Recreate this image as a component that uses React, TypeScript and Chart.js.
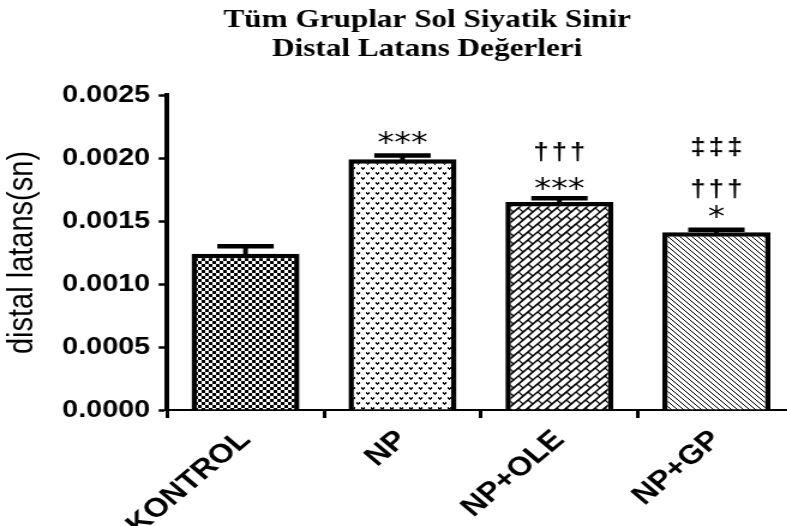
import React, { useEffect, useRef } from "react";
import { Chart, registerables } from "chart.js";

Chart.register(...registerables);

// Group data: mean distal latency (s) and SEM
const categories = ["KONTROL", "NP", "NP+OLE", "NP+GP"];
const meanLatency = [0.00124, 0.00199, 0.00165, 0.00141];
const semLatency = [0.00006, 0.00003, 0.00003, 0.00002];
const yTickValues = [0, 0.0005, 0.001, 0.0015, 0.002, 0.0025];
const titleLines = ["Tüm Gruplar Sol Siyatik Sinir", "Distal Latans Değerleri"];
const yAxisTitle = "distal latans(sn)";
// significance symbols per group, listed from the bar upwards
const significance = [[], ["***"], ["***", "†††"], ["*", "†††", "‡‡‡"]];

// The canvas is drawn narrow and widened with a CSS scaleX.
const STRETCH = 1.2;
const CANVAS_W = 690;
const CANVAS_H = 526;
const AXIS_LEFT = 139.2;
const CATEGORY_W = 130.8;
const PLOT_TOP = 95;
const PLOT_BOTTOM = 410;

// vertical lift (px) of each symbol row above the error-bar cap
const SYMBOL_LIFT = [
  [],
  [17.5],
  [14, 46],
  [18, 41, 83],
];

function tile(
  target: CanvasRenderingContext2D,
  w: number,
  h: number,
  draw: (g: CanvasRenderingContext2D) => void
): CanvasPattern {
  const c = document.createElement("canvas");
  c.width = w;
  c.height = h;
  const g = c.getContext("2d")!;
  g.fillStyle = "#fff";
  g.fillRect(0, 0, w, h);
  g.fillStyle = "#000";
  g.strokeStyle = "#000";
  draw(g);
  return target.createPattern(c, "repeat")!;
}

function buildPatterns(ctx: CanvasRenderingContext2D): CanvasPattern[] {
  const checker = tile(ctx, 6, 6, (g) => {
    g.fillRect(0, 0, 3, 3);
    g.fillRect(3, 3, 3, 3);
  });
  const vmarks = tile(ctx, 8, 10, (g) => {
    const v = (x: number, y: number) => {
      g.fillRect(x, y, 1, 2);
      g.fillRect(x + 2, y, 1, 2);
      g.fillRect(x + 1, y + 1, 1, 2);
    };
    v(1, 2);
    v(5, 7);
  });
  const brick = tile(ctx, 16, 16, (g) => {
    g.lineWidth = 1.2;
    for (let ox = -16; ox <= 16; ox += 16) {
      for (let oy = -16; oy <= 16; oy += 16) {
        // long "/" strokes
        for (let c = 0; c <= 32; c += 8) {
          g.beginPath();
          g.moveTo(ox + c - 16, oy + 16);
          g.lineTo(ox + c, oy);
          g.stroke();
        }
        // short cross strokes, staggered between rows
        for (let c = 0; c < 32; c += 8) {
          const d = (c / 8) % 2 === 0 ? 0 : 8;
          g.beginPath();
          g.moveTo(ox + (c + d) / 2, oy + (c - d) / 2);
          g.lineTo(ox + (c + 8 + d) / 2, oy + (c + 8 - d) / 2);
          g.stroke();
        }
      }
    }
  });
  const hatch = tile(ctx, 5, 5, (g) => {
    for (let i = 0; i < 5; i++) g.fillRect(i, i, 1, 1);
  });
  return [checker, vmarks, brick, hatch];
}

const errorBarPlugin = {
  id: "errorBars",
  afterDatasetsDraw(chart: any) {
    const { ctx } = chart;
    const y = chart.scales.y;
    const meta = chart.getDatasetMeta(0);
    ctx.save();
    ctx.strokeStyle = "#000";
    ctx.lineCap = "butt";
    meta.data.forEach((bar: any, i: number) => {
      const top = y.getPixelForValue(meanLatency[i] + semLatency[i]);
      ctx.lineWidth = 4;
      ctx.beginPath();
      ctx.moveTo(bar.x, bar.y + 2);
      ctx.lineTo(bar.x, top);
      ctx.stroke();
      ctx.lineWidth = 4.5;
      ctx.beginPath();
      ctx.moveTo(bar.x - 23.5, top);
      ctx.lineTo(bar.x + 23.5, top);
      ctx.stroke();
    });
    ctx.restore();
  },
};

const symbolPlugin = {
  id: "symbols",
  afterDatasetsDraw(chart: any) {
    const { ctx } = chart;
    const y = chart.scales.y;
    const meta = chart.getDatasetMeta(0);
    ctx.save();
    ctx.fillStyle = "#000";
    ctx.textAlign = "center";
    ctx.textBaseline = "alphabetic";
    meta.data.forEach((bar: any, i: number) => {
      const capY = y.getPixelForValue(meanLatency[i] + semLatency[i]);
      significance[i].forEach((row, r) => {
        const isStar = row[0] === "*";
        ctx.font = isStar ? "28px 'DejaVu Sans'" : "bold 23px 'Liberation Sans'";
        const step = isStar ? 14 : 15.3;
        const chars = Array.from(row);
        const m = ctx.measureText(chars[0]);
        const inkMid = (m.actualBoundingBoxAscent - m.actualBoundingBoxDescent) / 2;
        const cy = capY - SYMBOL_LIFT[i][r];
        chars.forEach((ch, k) => {
          const cx = bar.x + (k - (chars.length - 1) / 2) * step;
          ctx.fillText(ch, cx, cy + inkMid);
        });
      });
    });
    ctx.restore();
  },
};

const titlePlugin = {
  id: "twoLineTitle",
  afterDraw(chart: any) {
    const { ctx } = chart;
    ctx.save();
    ctx.fillStyle = "#000";
    ctx.textAlign = "center";
    ctx.textBaseline = "alphabetic";
    ctx.font = "bold 26px 'Liberation Serif'";
    titleLines.forEach((line, i) => {
      ctx.fillText(line, 356, 27 + i * 29);
    });
    ctx.restore();
  },
};

export default function App() {
  const canvasRef = useRef<HTMLCanvasElement | null>(null);

  useEffect(() => {
    const canvas = canvasRef.current;
    if (!canvas) return;
    const ctx = canvas.getContext("2d")!;
    const patterns = buildPatterns(ctx);
    const plotRight = AXIS_LEFT + CATEGORY_W * categories.length;

    const chart = new Chart(ctx, {
      type: "bar",
      data: {
        labels: categories,
        datasets: [
          {
            data: meanLatency,
            backgroundColor: patterns,
            borderColor: "#000",
            borderWidth: 4.5,
            borderSkipped: "start",
            barPercentage: 0.688,
            categoryPercentage: 1,
          },
        ],
      },
      options: {
        responsive: false,
        animation: false,
        events: [],
        layout: {
          padding: { top: PLOT_TOP, left: 0, right: CANVAS_W - plotRight, bottom: 0 },
        },
        plugins: {
          legend: { display: false },
          tooltip: { enabled: false },
          title: { display: false },
        },
        scales: {
          x: {
            grid: {
              display: true,
              drawOnChartArea: false,
              drawTicks: true,
              tickLength: 8,
              tickWidth: 3,
              tickColor: "#000",
            },
            border: { display: true, color: "#000", width: 2 },
            ticks: {
              minRotation: 45,
              maxRotation: 45,
              color: "#000",
              font: { family: "'Liberation Sans'", size: 27, weight: "bold" },
              padding: 6,
            },
            afterFit: (s: any) => {
              s.height = CANVAS_H - PLOT_BOTTOM;
            },
          },
          y: {
            min: 0,
            max: 0.0025,
            afterBuildTicks: (s: any) => {
              s.ticks = yTickValues.map((v) => ({ value: v }));
            },
            ticks: {
              color: "#000",
              font: { family: "'Liberation Sans'", size: 24, weight: "bold" },
              padding: 7,
              callback: (v: any) => Number(v).toFixed(4),
            },
            grid: {
              display: true,
              drawOnChartArea: false,
              drawTicks: true,
              tickLength: 7,
              tickWidth: 2.5,
              tickColor: "#000",
            },
            border: { display: true, color: "#000", width: 4 },
            title: {
              display: true,
              text: yAxisTitle,
              color: "#000",
              font: { family: "'Liberation Sans'", size: 29 },
              padding: { top: 2, bottom: 0 },
            },
            afterFit: (s: any) => {
              s.width = AXIS_LEFT;
            },
          },
        },
      },
      plugins: [errorBarPlugin, symbolPlugin, titlePlugin],
    });

    return () => chart.destroy();
  }, []);

  return (
    <div
      style={{
        position: "fixed",
        left: 0,
        top: 0,
        width: 787,
        height: 526,
        overflow: "hidden",
        background: "#fff",
      }}
    >
      <canvas
        ref={canvasRef}
        width={CANVAS_W}
        height={CANVAS_H}
        style={{
          display: "block",
          width: CANVAS_W,
          height: CANVAS_H,
          transform: `scaleX(${STRETCH})`,
          transformOrigin: "0 0",
        }}
      />
    </div>
  );
}
